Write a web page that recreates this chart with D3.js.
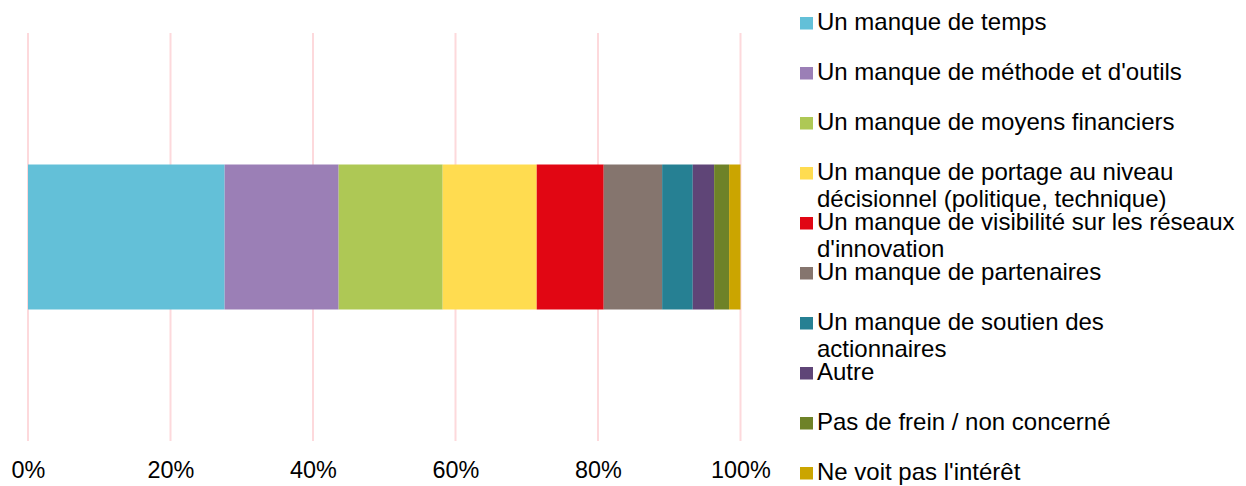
<!DOCTYPE html>
<html>
<head>
<meta charset="utf-8">
<script src="https://cdn.jsdelivr.net/npm/d3@7"></script>
<style>
  body { margin: 0; background: #fff; }
  svg { font-family: "Liberation Sans", Arial, sans-serif; }
</style>
</head>
<body>
<div id="chart"></div>
<script>
// Categories (stack order, left to right) and their share in %
const categories = [
    "Un manque de temps",
    "Un manque de méthode et d'outils",
    "Un manque de moyens financiers",
    "Un manque de portage au niveau décisionnel (politique, technique)",
    "Un manque de visibilité sur les réseaux d'innovation",
    "Un manque de partenaires",
    "Un manque de soutien des actionnaires",
    "Autre",
    "Pas de frein / non concerné",
    "Ne voit pas l'intérêt"
];
const values = [27.6, 16.0, 14.6, 13.2, 9.4, 8.2, 4.3, 3.0, 2.1, 1.6];
const colors = ["#63c0d8", "#9b7fb6", "#aec855", "#ffdc50", "#e10613",
                "#85756e", "#268093", "#5f4577", "#6e8228", "#cba500"];
const ticks = [0, 20, 40, 60, 80, 100];

const width = 1246, height = 486;

const svg = d3.select("#chart")
              .append("svg")
              .attr("width", width)
              .attr("height", height);

const x = d3.scaleLinear()
            .domain([0, 100])
            .range([28, 740.5]);

const y = d3.scaleBand()
            .domain(["row"])
            .range([33, 441])
            .paddingInner(0)
            .paddingOuter(0.907);

// gridlines
svg.append("g")
   .selectAll("line")
   .data(ticks)
   .enter().append("line")
   .attr("x1", d => x(d))
   .attr("x2", d => x(d))
   .attr("y1", 33)
   .attr("y2", 441)
   .attr("stroke", "#fdd9dc")
   .attr("stroke-width", 2);

// stacked segments
let acc = 0;
const segs = values.map((v, i) => {
    const s = { start: acc, end: acc + v, color: colors[i] };
    acc += v;
    return s;
});

svg.append("g")
   .selectAll("rect")
   .data(segs)
   .enter().append("rect")
   .attr("x", d => x(d.start))
   .attr("y", y("row"))
   .attr("width", d => x(d.end) - x(d.start))
   .attr("height", y.bandwidth())
   .attr("fill", d => d.color);

// x axis labels
const xAxis = svg.append("g")
   .attr("transform", "translate(0,478)")
   .call(d3.axisBottom(x).tickValues(ticks).tickSize(0).tickPadding(0)
           .tickFormat(d => d + "%"));
xAxis.select(".domain").remove();
xAxis.selectAll("text")
     .attr("dy", 0)
     .attr("y", 0)
     .attr("font-size", "23.4px")
     .attr("font-family", "Liberation Sans, Arial, sans-serif")
     .attr("fill", "#000");

// legend
const legend = svg.append("g");
const maxW = 419;

categories.forEach((c, i) => {
    const base = 30 + i * 50;
    legend.append("rect")
          .attr("x", 800)
          .attr("y", base - 13)
          .attr("width", 13)
          .attr("height", 12.5)
          .attr("fill", colors[i]);

    const t = legend.append("text")
                    .attr("x", 817)
                    .attr("y", base)
                    .attr("font-size", "24px")
                    .attr("fill", "#000");

    // simple word wrap
    const words = c.split(" ");
    let line = [];
    let ts = t.append("tspan").attr("x", 817).attr("y", base);
    let lineNo = 0;
    words.forEach(w => {
        line.push(w);
        ts.text(line.join(" "));
        if (ts.node().getComputedTextLength() > maxW && line.length > 1) {
            line.pop();
            ts.text(line.join(" "));
            line = [w];
            lineNo++;
            ts = t.append("tspan")
                  .attr("x", 817)
                  .attr("y", base + lineNo * 27)
                  .text(w);
        }
    });
});
</script>
</body>
</html>
